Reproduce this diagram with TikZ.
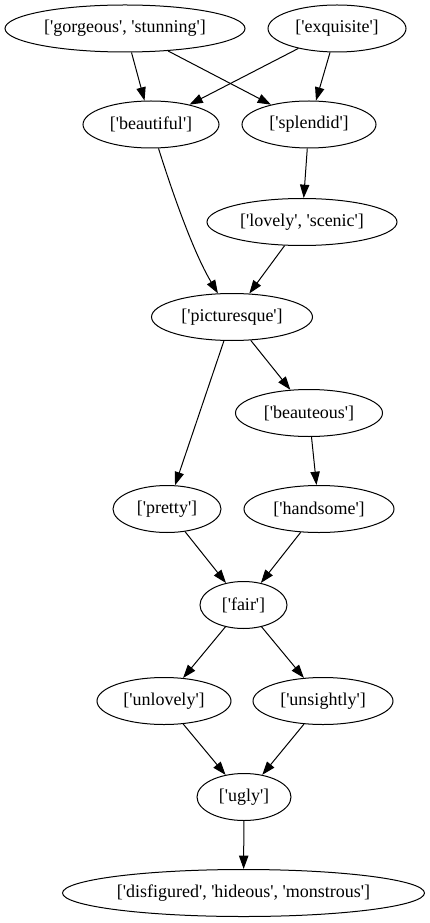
\documentclass[tikz,border=0pt]{standalone}
\usepackage{fontspec}
\setmainfont{Liberation Serif}[Ligatures=TeXOff]
\usetikzlibrary{shapes.geometric,arrows.meta}

\tikzset{every picture/.style={line width=0.75pt}}
\tikzset{
	word/.style={draw,ellipse,inner sep=0pt,minimum height=35.25pt,font=\fontsize{13.5}{16}\selectfont},
	wd/.style={minimum width=#1*0.75pt},
	link/.style={-{Triangle[length=10pt,width=7pt]}}
}

\begin{document}
\begin{tikzpicture}[x=0.75pt,y=0.75pt,yscale=-1,xscale=1]
	%set diagram left start at 0, and has height of 923
	\path (0,0) rectangle (429,923);
	
	% Text Node
	\draw (125,28.5) node [word,wd=240] (gorgeous) {['gorgeous', 'stunning']};
	% Text Node
	\draw (337,28.5) node [word,wd=138] (exquisite) {['exquisite']};
	% Text Node
	\draw (151,124.5) node [word,wd=136] (beautiful) {['beautiful']};
	% Text Node
	\draw (309,124.5) node [word,wd=134] (splendid) {['splendid']};
	% Text Node
	\draw (302,222) node [word,wd=190] (lovely) {['lovely', 'scenic']};
	% Text Node
	\draw (232,317) node [word,wd=161] (picturesque) {['picturesque']};
	% Text Node
	\draw (309,413) node [word,wd=147] (beauteous) {['beauteous']};
	% Text Node
	\draw (167,509) node [word,wd=108] (pretty) {['pretty']};
	% Text Node
	\draw (319,509) node [word,wd=150] (handsome) {['handsome']};
	% Text Node
	\draw (243.5,605) node [word,wd=87] (fair) {['fair']};
	% Text Node
	\draw (164,701) node [word,wd=134] (unlovely) {['unlovely']};
	% Text Node
	\draw (323,701) node [word,wd=140] (unsightly) {['unsightly']};
	% Text Node
	\draw (244,797) node [word,wd=94] (ugly) {['ugly']};
	% Text Node
	\draw (243.5,893) node [word,wd=362] (disfigured) {['disfigured', 'hideous', 'monstrous']};
	
	%Straight Lines
	\draw [link] (gorgeous) -- (beautiful);
	\draw [link] (gorgeous) -- (splendid);
	\draw [link] (exquisite) -- (beautiful);
	\draw [link] (exquisite) -- (splendid);
	%Curve Lines
	\draw [link] (beautiful) .. controls (170,185) and (192,250) .. (picturesque);
	%Straight Lines
	\draw [link] (splendid) -- (lovely);
	\draw [link] (lovely) -- (picturesque);
	\draw [link] (picturesque) -- (beauteous);
	\draw [link] (picturesque) -- (pretty);
	\draw [link] (beauteous) -- (handsome);
	\draw [link] (pretty) -- (fair);
	\draw [link] (handsome) -- (fair);
	\draw [link] (fair) -- (unlovely);
	\draw [link] (fair) -- (unsightly);
	\draw [link] (unlovely) -- (ugly);
	\draw [link] (unsightly) -- (ugly);
	\draw [link] (ugly) -- (disfigured);
	
\end{tikzpicture}
\end{document}
